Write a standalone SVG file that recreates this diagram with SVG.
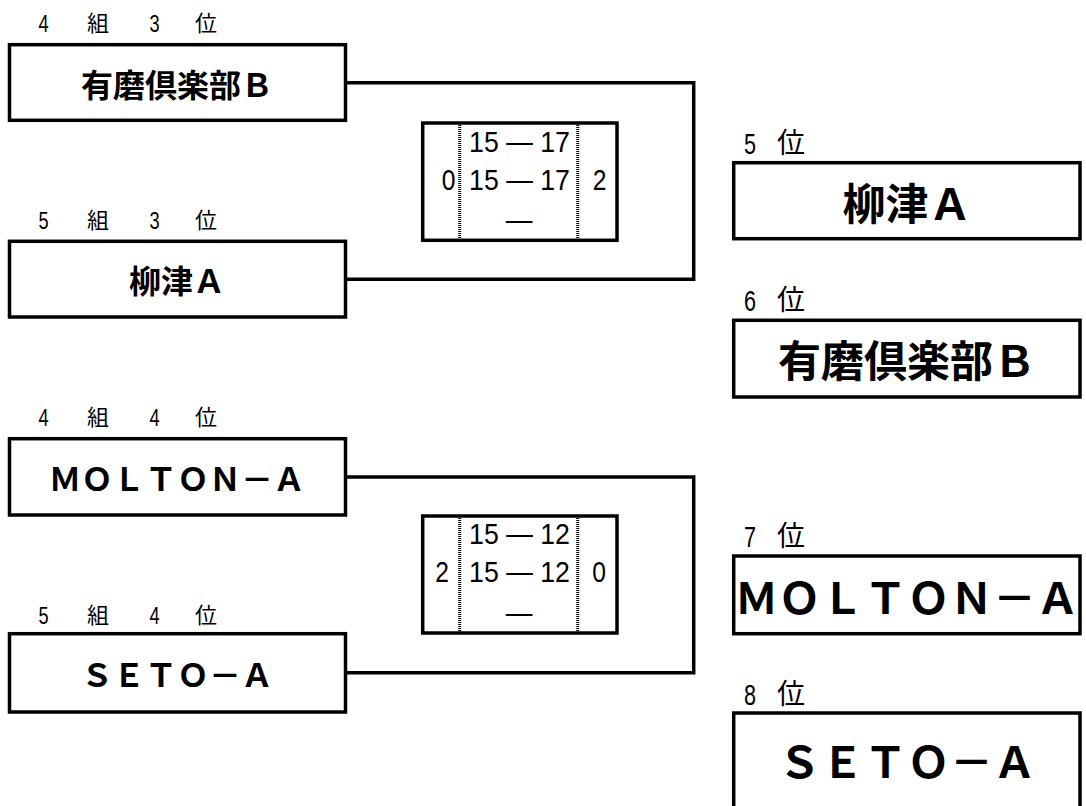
<svg xmlns="http://www.w3.org/2000/svg" width="1086" height="806" viewBox="0 0 1086 806">
<style>
.box{fill:#fff;stroke:#000;stroke-width:3.5}
.conn{fill:none;stroke:#000;stroke-width:3.5}
.dot{stroke:#000;stroke-width:3;stroke-dasharray:1 1}
.lbl{font-family:"Noto Sans CJK JP",sans-serif;font-size:22px;fill:#000}
.ld{font-family:"Liberation Sans",sans-serif;font-size:24px;fill:#000}
.rl{font-family:"Noto Sans CJK JP",sans-serif;font-size:28px;fill:#000}
.rd{font-family:"Liberation Sans",sans-serif;font-size:30px;fill:#000}
.nm{font-family:"Noto Sans CJK JP",sans-serif;font-weight:bold;font-size:32px;fill:#000;text-anchor:middle;dominant-baseline:central}
.nmr{font-family:"Noto Sans CJK JP",sans-serif;font-weight:bold;font-size:43px;fill:#000;text-anchor:middle;dominant-baseline:central}
.sc{font-family:"Liberation Sans",sans-serif;font-size:29px;fill:#000;text-anchor:middle}
</style>
<g id="connectors">
<path class="conn" d="M345,82.7 H693.7 V279.3 H345"/>
<path class="conn" d="M345,477 H693.7 V672.7 H345"/>
</g>
<g id="team1">
<text class="ld" transform="translate(38.5,32) scale(0.76,1)">4</text>
<text class="lbl" x="87" y="31">組</text>
<text class="ld" transform="translate(149.5,32) scale(0.76,1)">3</text>
<text class="lbl" x="195" y="31">位</text>
<rect class="box" x="9.5" y="44.7" width="336" height="75.6"/>
<text class="nm" x="177" y="82.5">有磨倶楽部Ｂ</text>
</g>
<g id="team2">
<text class="ld" transform="translate(38.5,229) scale(0.76,1)">5</text>
<text class="lbl" x="87" y="228">組</text>
<text class="ld" transform="translate(149.5,229) scale(0.76,1)">3</text>
<text class="lbl" x="195" y="228">位</text>
<rect class="box" x="9.5" y="241.3" width="336" height="75.7"/>
<text class="nm" x="177" y="279">柳津Ａ</text>
</g>
<g id="team3">
<text class="ld" transform="translate(38.5,426) scale(0.76,1)">4</text>
<text class="lbl" x="87" y="425">組</text>
<text class="ld" transform="translate(149.5,426) scale(0.76,1)">4</text>
<text class="lbl" x="195" y="425">位</text>
<rect class="box" x="9.5" y="438.7" width="336" height="76.3"/>
<text class="nm" x="177" y="477">ＭＯＬＴＯＮ－Ａ</text>
</g>
<g id="team4">
<text class="ld" transform="translate(38.5,624) scale(0.76,1)">5</text>
<text class="lbl" x="87" y="623">組</text>
<text class="ld" transform="translate(149.5,624) scale(0.76,1)">4</text>
<text class="lbl" x="195" y="623">位</text>
<rect class="box" x="9.5" y="633.7" width="336" height="78.3"/>
<text class="nm" x="177" y="673">ＳＥＴＯ－Ａ</text>
</g>
<g id="score1">
<rect class="box" x="422.7" y="123" width="194.3" height="117.3"/>
<line class="dot" x1="459.7" y1="125" x2="459.7" y2="238.5"/>
<line class="dot" x1="577.7" y1="125" x2="577.7" y2="238.5"/>
<text class="sc" transform="translate(519.5,152) scale(0.92,1)">15 — 17</text>
<text class="sc" transform="translate(519.5,190) scale(0.92,1)">15 — 17</text>
<text class="sc" transform="translate(519,230) scale(0.92,1)">—</text>
<text class="sc" transform="translate(448.5,190) scale(0.85,1)">0</text>
<text class="sc" transform="translate(599.5,190) scale(0.85,1)">2</text>
</g>
<g id="score2">
<rect class="box" x="422.7" y="516" width="194.3" height="117"/>
<line class="dot" x1="459.7" y1="518" x2="459.7" y2="631"/>
<line class="dot" x1="577.7" y1="518" x2="577.7" y2="631"/>
<text class="sc" transform="translate(519.5,544) scale(0.92,1)">15 — 12</text>
<text class="sc" transform="translate(519.5,582) scale(0.92,1)">15 — 12</text>
<text class="sc" transform="translate(519,623) scale(0.92,1)">—</text>
<text class="sc" transform="translate(442,582) scale(0.85,1)">2</text>
<text class="sc" transform="translate(599,582) scale(0.85,1)">0</text>
</g>
<g id="rank5">
<text class="rd" transform="translate(744,154) scale(0.72,1)">5</text>
<text class="rl" x="777" y="153">位</text>
<rect class="box" x="733.7" y="162.7" width="346.3" height="76"/>
<text class="nmr" x="907" y="200.5">柳津Ａ</text>
</g>
<g id="rank6">
<text class="rd" transform="translate(744,311) scale(0.72,1)">6</text>
<text class="rl" x="777" y="310">位</text>
<rect class="box" x="733.7" y="320.3" width="346.3" height="76.7"/>
<text class="nmr" x="907" y="358">有磨倶楽部Ｂ</text>
</g>
<g id="rank7">
<text class="rd" transform="translate(744,547) scale(0.72,1)">7</text>
<text class="rl" x="777" y="546">位</text>
<rect class="box" x="733.7" y="556" width="346.3" height="77.7"/>
<text class="nmr" x="907" y="595">ＭＯＬＴＯＮ－Ａ</text>
</g>
<g id="rank8">
<text class="rd" transform="translate(744,705) scale(0.72,1)">8</text>
<text class="rl" x="777" y="704">位</text>
<rect class="box" x="733.7" y="713" width="346.3" height="110"/>
<text class="nmr" x="907" y="759">ＳＥＴＯ－Ａ</text>
</g>
</svg>
